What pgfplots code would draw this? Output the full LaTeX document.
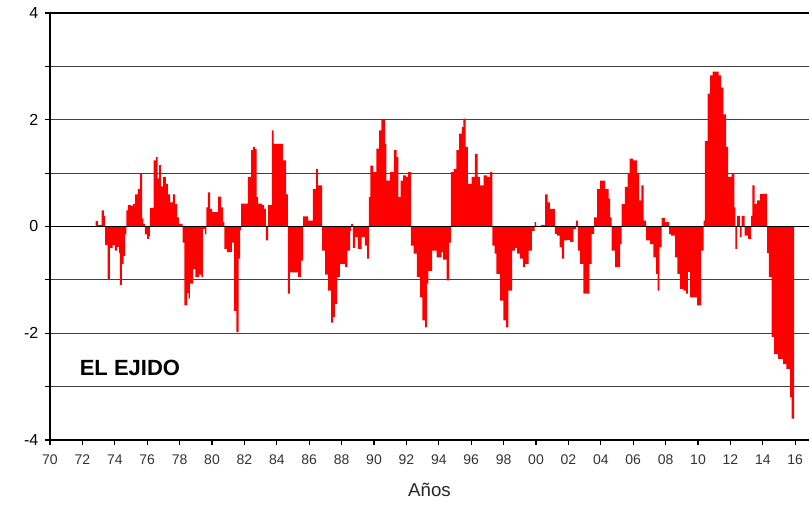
\documentclass[border=0pt]{standalone}
\usepackage{fontspec}
\setmainfont{Liberation Sans}
\usepackage{pgfplots}
\pgfplotsset{compat=1.18}
\begin{document}
\begin{tikzpicture}
\begin{axis}[
  name=ax,
  scale only axis,
  width=569.25pt, height=320.25pt,
  xmin=70, xmax=116.85, ymin=-4, ymax=4,
  axis x line*=bottom, axis y line*=left,
  axis line style={-, black, line width=1.1pt},
  xtick={70,72,...,116},
  xticklabels={70,72,74,76,78,80,82,84,86,88,90,92,94,96,98,00,02,04,06,08,10,12,14,16},
  ytick={-4,-2,0,2,4},
  minor ytick={-3,-1,1,3},
  tick align=outside,
  major tick length=3.75pt, minor tick length=3.75pt,
  tick style={black, line width=0.9pt},
  ymajorgrids, yminorgrids,
  major grid style={black!75, line width=0.6pt},
  minor grid style={black!75, line width=0.6pt},
  /pgf/number format/assume math mode=true,
  yticklabel style={font=\fontsize{12}{14}\selectfont, black, xshift=-1.5pt},
  xticklabel style={font=\fontsize{10.5}{12}\selectfont, black!80, yshift=-4pt},
  xlabel={Años},
  xlabel style={font=\fontsize{14}{16}\selectfont, black!85, yshift=-9pt, inner sep=1pt},
  clip=false,
]
\addplot[const plot, fill=red, draw=none] table {
x y
72.81 0.1
72.96 0.03
73.18 0.3
73.33 0.2
73.40 -0.35
73.55 -1.0
73.70 -0.4
73.86 -0.35
74.01 -0.45
74.14 -0.38
74.26 -0.5
74.32 -1.1
74.44 -0.7
74.54 -0.55
74.63 -0.15
74.72 0.3
74.81 0.4
75.00 0.38
75.12 0.42
75.25 0.6
75.43 0.7
75.56 1.0
75.68 0.15
75.77 0.05
75.86 -0.15
75.99 -0.23
76.11 -0.18
76.17 0.35
76.39 1.24
76.54 1.3
76.64 0.9
76.73 1.15
76.85 0.75
76.98 0.93
77.16 0.8
77.28 0.6
77.41 0.45
77.59 0.6
77.72 0.42
77.84 0.17
77.96 0.05
78.18 -0.3
78.30 -1.48
78.46 -1.25
78.55 -1.35
78.64 -1.07
78.83 -0.8
78.98 -0.95
79.20 -0.9
79.35 -0.95
79.44 -0.05
79.57 -0.15
79.66 0.36
79.75 0.64
79.88 0.33
80.00 0.27
80.37 0.56
80.56 0.36
80.68 0.08
80.77 -0.42
80.93 -0.48
81.23 -0.3
81.36 -1.58
81.51 -1.98
81.64 -0.6
81.73 -0.07
81.79 0.43
82.22 0.93
82.41 1.43
82.53 1.49
82.65 1.45
82.75 0.55
82.84 0.43
83.09 0.4
83.21 0.33
83.33 -0.26
83.46 0.4
83.70 1.8
83.80 1.55
84.38 1.24
84.57 0.6
84.69 -1.26
84.81 -0.86
85.31 -0.95
85.49 -0.64
85.62 0.19
85.93 0.11
86.23 0.7
86.42 1.08
86.54 0.77
86.79 -0.45
86.98 -0.9
87.16 -1.2
87.35 -1.8
87.47 -1.7
87.59 -1.45
87.72 -0.95
87.90 -0.7
88.21 -0.76
88.36 -0.45
88.52 -0.08
88.58 0.05
88.70 -0.4
88.83 -0.2
89.01 -0.42
89.23 -0.2
89.44 -0.36
89.57 -0.6
89.69 0.55
89.78 1.14
89.94 1.02
90.15 1.46
90.31 1.8
90.46 2.0
90.68 1.55
90.77 0.86
90.99 1.02
91.23 1.43
91.39 1.3
91.51 0.55
91.64 0.86
91.79 0.96
91.98 0.93
92.10 1.02
92.28 -0.36
92.44 -0.51
92.65 -0.95
92.84 -1.33
92.99 -1.76
93.15 -1.89
93.27 -1.07
93.36 -0.83
93.58 -0.45
93.86 -0.58
94.17 -0.48
94.26 -0.62
94.48 -1.01
94.63 -0.3
94.75 1.02
94.91 1.08
95.09 1.43
95.25 1.74
95.43 1.86
95.52 2.02
95.65 1.49
95.80 0.8
96.02 0.93
96.23 1.36
96.39 0.93
96.54 0.77
96.76 0.96
96.98 0.93
97.16 1.02
97.31 -0.36
97.44 -0.51
97.56 -0.89
97.78 -1.39
97.99 -1.76
98.15 -1.89
98.30 -1.2
98.52 -0.45
98.70 -0.4
98.83 -0.51
99.01 -0.6
99.20 -0.76
99.32 -0.7
99.54 -0.45
99.75 -0.08
99.91 0.08
100.00 0.01
100.31 0.03
100.56 0.6
100.71 0.45
100.86 0.33
101.17 -0.14
101.30 -0.17
101.45 -0.39
101.60 -0.6
101.73 -0.26
101.91 -0.25
102.10 -0.29
102.31 -0.05
102.47 0.11
102.59 -0.45
102.72 -0.7
102.93 -1.26
103.30 -0.7
103.43 -0.14
103.58 0.17
103.77 0.7
103.95 0.86
104.26 0.7
104.48 0.52
104.57 0.17
104.66 -0.45
104.88 -0.76
105.19 -0.33
105.28 0.42
105.49 0.74
105.65 0.99
105.77 1.27
105.99 1.24
106.23 0.99
106.36 0.49
106.51 0.77
106.64 0.11
106.79 -0.26
107.04 -0.33
107.25 -0.58
107.41 -0.89
107.50 -1.2
107.62 -0.39
107.75 0.16
107.96 0.08
108.21 -0.14
108.33 -0.17
108.58 -0.58
108.73 -0.89
108.89 -1.17
109.10 -1.2
109.26 -1.26
109.38 -0.85
109.51 -1.33
109.94 -1.48
110.19 -0.45
110.34 0.11
110.43 1.6
110.59 2.49
110.74 2.83
110.90 2.9
111.27 2.83
111.42 2.6
111.57 2.1
111.73 1.49
111.85 0.93
112.07 0.99
112.25 0.36
112.31 -0.42
112.41 0.2
112.59 -0.2
112.69 0.2
112.87 -0.17
113.09 -0.23
113.27 0.2
113.36 0.77
113.49 0.42
113.64 0.49
113.83 0.61
114.26 -0.5
114.38 -0.95
114.54 -2.07
114.69 -2.39
114.94 -2.48
115.25 -2.58
115.46 -2.67
115.68 -3.2
115.77 -3.6
115.93 -3.6
} \closedcycle;
\addplot[black, line width=1.1pt] coordinates {(70,0) (116.85,0)};
\addplot[black, line width=1pt] coordinates {(70,4) (116.85,4)};
\node[anchor=west, font=\bfseries\fontsize{16.5}{19}\selectfont] at (axis cs:71.55,-2.65) {EL EJIDO};
\end{axis}
\pgfresetboundingbox
\path[use as bounding box] ([shift={(-37.5pt,-49.5pt)}]ax.south west) rectangle ([shift={(0pt,9.75pt)}]ax.north east);
\end{tikzpicture}
\end{document}
